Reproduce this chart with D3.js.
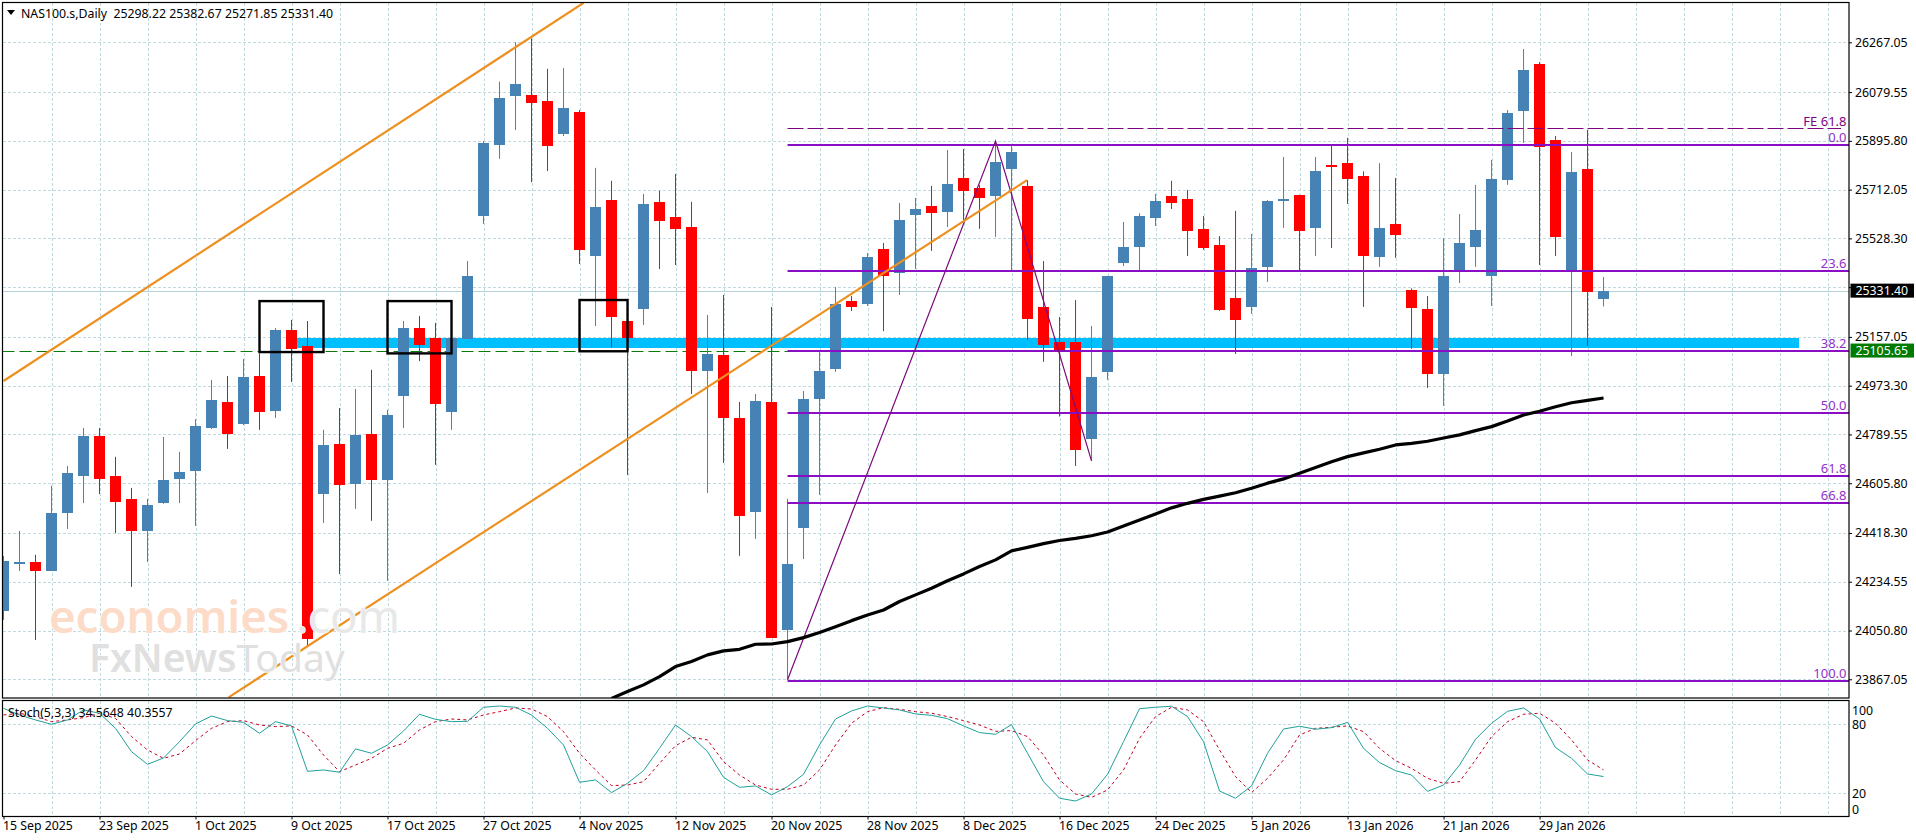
<!DOCTYPE html>
<html>
<head>
<meta charset="utf-8">
<script src="https://cdn.jsdelivr.net/npm/d3@7"></script>
<style>
  html, body { margin: 0; padding: 0; background: #fff; }
  svg { display: block; }
  text { font-family: "Noto Sans", sans-serif; }
</style>
</head>
<body>
<div id="chart"></div>
<script>
// NAS100.s daily candles, bar 0 = 15 Sep 2025
const opens = [24126,24306,24309,24275,24494,24633,24784,24633,24547,24426,24531,24622,24652,24814,24912,24829,25010,24878,25183,25123,
  24565,24754,24603,24791,24618,24935,25191,25153,24874,25149,25613,25880,26065,26069,26046,25922,26005,25462,25673,25217,
  25262,25666,25609,25571,25029,25089,24852,24498,24912,24053,24437,24923,25036,25293,25281,25488,25398,25617,25650,25628,
  25756,25718,25688,25790,25726,25270,25138,25138,24773,25025,25436,25496,25605,25688,25677,25564,25504,25304,25270,25421,
  25669,25692,25568,25805,25812,25763,25458,25583,25334,25262,25017,25406,25496,25387,25748,26008,26185,25899,25406,25790,25298.22];
const highs = [24332,24426,24336,24596,24671,24814,24814,24705,24588,24547,24780,24724,24847,24995,25010,25074,25095,25190,25221,25217,
  24807,24889,24961,25033,24882,25217,25236,25210,25153,25443,25895,26119,26267,26282,26167,26170,26012,25794,25745,25221,
  25696,25708,25771,25666,25240,25315,24912,24942,25270,24547,24953,25100,25345,25311,25473,25511,25662,25681,25726,25861,
  25865,25730,25895,25880,25748,25443,25232,25296,25198,25387,25590,25623,25696,25745,25711,25613,25537,25632,25545,25673,
  25835,25693,25835,25880,25907,25781,25812,25756,25340,25311,25530,25620,25730,25824,26012,26242,26193,25914,25854,25937,25382.67];
const lows = [24091,24275,24015,24275,24433,24531,24565,24418,24215,24309,24528,24531,24445,24810,24735,24825,24807,24852,24987,23990,
  24456,24264,24509,24464,24238,24814,25066,24675,24807,25149,25583,25828,25937,25740,25782,25914,25432,25198,25118,24637,
  25202,25413,25428,24942,24569,24682,24332,24396,24023,23865,24320,24562,25025,25255,25274,25179,25315,25413,25481,25571,
  25598,25564,25534,25402,25146,25063,24857,24671,24690,24995,25424,25407,25575,25639,25462,25485,25255,25093,25244,25364,
  25568,25406,25462,25492,25658,25270,25421,25455,25112,24965,24897,25360,25421,25274,25730,25888,25428,25462,25085,25123,25271.85];
const closes = [24313,24308,24275,24494,24644,24784,24622,24535,24426,24524,24618,24648,24822,24920,24791,25006,24874,25183,25112,24019,
  24750,24599,24788,24618,24863,25191,25127,24904,25153,25387,25888,26057,26110,26039,25877,26020,25485,25647,25232,25153,
  25658,25594,25564,25029,25093,24852,24482,24916,24023,24302,24923,25029,25281,25270,25458,25387,25598,25639,25624,25733,
  25707,25681,25816,25854,25225,25127,25108,24731,25006,25387,25496,25613,25669,25662,25556,25492,25259,25221,25417,25669,
  25677,25556,25782,25799,25752,25462,25568,25541,25266,25017,25387,25511,25560,25752,26001,26163,25873,25534,25779,25326,25331.40];

// moving average, first visible at bar 38
const maStart = 38;
const maValues = [23795,23821,23846,23877,23915,23934,23959,23974,23980,23999,24000,24009,24024,24043,24065,24088,24109,24128,24160,24185,
  24210,24238,24264,24292,24317,24351,24364,24378,24390,24398,24408,24422,24445,24467,24490,24513,24530,24545,24557,24570,
  24587,24606,24622,24643,24665,24687,24706,24720,24734,24750,24756,24764,24776,24788,24804,24819,24840,24863,24877,24894,24909,24918,24927];

// stochastic(5,3,3)
const stochMain = [93.9,88.1,83.8,80,83.8,92.5,89.6,76.5,56.2,45.2,50.7,64.9,80.3,87.2,83.2,81.7,72.2,82.3,78.6,39.1,
  40.3,38.3,58.6,54.8,62,74.2,88.7,84.3,82.3,82.6,94.8,95.9,94.8,88.1,76.5,62,29.6,31.6,20.6,28.7,
  39.7,59.1,79.4,69.3,56.2,33.9,25.2,26.4,18.6,25.8,36.5,62,84.6,91.6,95.9,94.2,92.5,89,87.8,84.9,
  78.6,72.8,71.3,79.7,54.8,30.1,15.7,13.3,19.4,36.5,64.9,93.6,94.8,95.7,86.7,64.9,22,15.7,26.4,54.8,
  75.9,78.3,75.7,77.1,81.7,59.1,46.7,39.7,35.9,21.7,27.2,44.6,67,80.9,91.3,94.2,84.6,59.7,50.4,36.8,34.56];
const stochSignal = [88.1,89.6,86.7,82.3,83.8,85.8,89.6,85.2,69.3,57.7,50.4,54.2,65.8,76.5,82.3,83.2,79.4,78,78.6,70.7,
  53.3,38.8,44.6,50.4,59.1,63.5,75.1,82.3,84.6,83.8,88.1,91,94.2,93.3,86.7,73.6,54.8,40.3,26.7,27.2,
  30.1,46.1,61.4,68.7,66.4,47.5,35.9,27.2,23.5,23.5,27.2,40.3,62,80.9,91,94.5,93,91,89.6,86.7,
  83.2,79.4,73.9,74.5,69.3,53.3,31.6,19.4,16.5,22.9,40.3,67.8,86.7,94.8,92.5,82.3,57.7,34.5,20.6,33,
  49,70.7,76.5,77.4,78.6,73.6,59.1,48.4,41.7,33,28.7,30.1,49,69.3,82.3,88.7,89.6,80.9,66.4,49,40.36];

// axis labels
const priceTicks = [26267.05,26079.55,25895.80,25712.05,25528.30,25157.05,24973.30,24789.55,24605.80,24418.30,24234.55,24050.80,23867.05];
const hiddenGridPrice = 25344.55;
const dateTickBars = [0,6,12,18,24,30,36,42,48,54,60,66,72,78,84,90,96];
const dateTickLabels = ["15 Sep 2025","23 Sep 2025","1 Oct 2025","9 Oct 2025","17 Oct 2025","27 Oct 2025","4 Nov 2025","12 Nov 2025","20 Nov 2025",
  "28 Nov 2025","8 Dec 2025","16 Dec 2025","24 Dec 2025","5 Jan 2026","13 Jan 2026","21 Jan 2026","29 Jan 2026"];
const stochLevels = [80, 20];

// drawn objects
const fibLevels = ["0.0","23.6","38.2","50.0","61.8","66.8","100.0"];
const fibPrices = [25880,25404,25103,24871,24633,24532,23862];
const fibStartBar = 49;
const feLevel = 25943;
const bidPrice = 25105.65;
const lastPrice = 25331.40;
const zoneBars = [18, 112.2];
const zonePrices = [25153, 25115];
const channelUpper = [[0, 24991], [36.26, 26416]];
const channelLower = [[14.07, 23799], [63.97, 25748]];
const zigzag = [[49, 23865], [62, 25895], [68, 24690]];
const boxes = [[16, 20, 25292, 25100], [24, 28, 25292, 25095], [36, 39, 25296, 25103]];

//Dimensions
const width = 1916;
const height = 840;
const plot = { left: 2.5, right: 1849, top: 2.5, mainBottom: 698, stochTop: 700.5, stochBottom: 816.5 };

const x = d3.scaleLinear().domain([0, 115.34]).range([3.5, plot.right]);
const y = d3.scaleLinear().domain([26426.55, 23799]).range([0, 697.33]);
const yStoch = d3.scaleLinear().domain([0, 100]).range([816.3, 701.3]);

const svg = d3.select("#chart").append("svg")
  .attr("width", width)
  .attr("height", height);

svg.append("defs").append("clipPath").attr("id", "mainClip").append("rect")
  .attr("x", plot.left).attr("y", plot.top)
  .attr("width", plot.right - plot.left).attr("height", plot.mainBottom - plot.top);

/*#### Grid ####*/
const gridBars = d3.range(3, 115, 3);
const grid = svg.append("g").attr("fill", "none").attr("stroke", "#c2dadf").attr("stroke-dasharray", "3 2")
  .attr("shape-rendering", "crispEdges");
grid.selectAll(".v").data(gridBars).join("line")
  .attr("x1", d => Math.round(x(d)) + 0.5).attr("x2", d => Math.round(x(d)) + 0.5)
  .attr("y1", plot.top).attr("y2", plot.mainBottom);
grid.selectAll(".v2").data(gridBars).join("line")
  .attr("x1", d => Math.round(x(d)) + 0.5).attr("x2", d => Math.round(x(d)) + 0.5)
  .attr("y1", plot.stochTop).attr("y2", plot.stochBottom);
grid.selectAll(".h").data(priceTicks.concat([hiddenGridPrice])).join("line")
  .attr("x1", plot.left).attr("x2", plot.right)
  .attr("y1", d => Math.round(y(d)) + 0.5).attr("y2", d => Math.round(y(d)) + 0.5);
grid.selectAll(".h2").data(stochLevels).join("line")
  .attr("x1", plot.left).attr("x2", plot.right)
  .attr("y1", d => Math.round(yStoch(d)) + 0.5).attr("y2", d => Math.round(yStoch(d)) + 0.5);

/*#### Main panel ####*/
const main = svg.append("g").attr("clip-path", "url(#mainClip)");

main.append("line")
  .attr("x1", plot.left).attr("x2", plot.right)
  .attr("y1", Math.round(y(lastPrice)) + 0.5).attr("y2", Math.round(y(lastPrice)) + 0.5)
  .attr("stroke", "#b4d4d8").attr("stroke-width", 1);

main.append("rect")
  .attr("x", x(zoneBars[0])).attr("width", x(zoneBars[1]) - x(zoneBars[0]))
  .attr("y", y(zonePrices[0])).attr("height", y(zonePrices[1]) - y(zonePrices[0]))
  .attr("fill", "#00bfff").attr("shape-rendering", "crispEdges");

main.append("line")
  .attr("x1", plot.left).attr("x2", plot.right)
  .attr("y1", Math.round(y(bidPrice)) + 0.5).attr("y2", Math.round(y(bidPrice)) + 0.5)
  .attr("stroke", "#0a7a0a").attr("stroke-width", 1).attr("stroke-dasharray", "12 5");

// candles
const bars = d3.range(opens.length);
const candleColor = i => closes[i] >= opens[i] ? "#4682b4" : "#ff0000";
main.selectAll(".wick").data(bars).join("line")
  .attr("x1", i => x(i)).attr("x2", i => x(i))
  .attr("y1", i => y(highs[i])).attr("y2", i => y(lows[i]))
  .attr("stroke", candleColor).attr("stroke-width", 1);
main.selectAll(".body").data(bars).join("rect")
  .attr("x", i => x(i) - 5.5).attr("width", 11)
  .attr("y", i => y(Math.max(opens[i], closes[i])))
  .attr("height", i => Math.max(1.5, Math.abs(y(opens[i]) - y(closes[i]))))
  .attr("fill", candleColor)
  .attr("shape-rendering", "crispEdges");

// fibonacci
main.append("line")
  .attr("x1", x(fibStartBar)).attr("x2", plot.right - 8)
  .attr("y1", Math.round(y(feLevel)) + 0.5).attr("y2", Math.round(y(feLevel)) + 0.5)
  .attr("stroke", "#800080").attr("stroke-width", 1).attr("stroke-dasharray", "16 4");
main.selectAll(".fib").data(fibPrices).join("line")
  .attr("x1", x(fibStartBar)).attr("x2", plot.right)
  .attr("y1", d => Math.round(y(d))).attr("y2", d => Math.round(y(d)))
  .attr("stroke", "#8a0fc4").attr("stroke-width", 2);

const lineGen = d3.line().x(d => x(d[0])).y(d => y(d[1]));
main.append("path").datum(zigzag).attr("d", lineGen)
  .attr("fill", "none").attr("stroke", "#7a0a7a").attr("stroke-width", 1.2);

// channel
[channelUpper, channelLower].forEach(c => {
  main.append("path").datum(c).attr("d", lineGen)
    .attr("fill", "none").attr("stroke", "#ee9020").attr("stroke-width", 2.2);
});

// moving average
main.append("path").datum(maValues)
  .attr("d", d3.line().x((d, i) => x(i + maStart)).y(d => y(d)))
  .attr("fill", "none").attr("stroke", "#000").attr("stroke-width", 3.2).attr("stroke-linejoin", "round");

// boxes
main.selectAll(".box").data(boxes).join("rect")
  .attr("x", d => x(d[0])).attr("width", d => x(d[1]) - x(d[0]))
  .attr("y", d => y(d[2])).attr("height", d => y(d[3]) - y(d[2]))
  .attr("fill", "none").attr("stroke", "#000").attr("stroke-width", 2.4);

// fib labels
const labels = svg.append("g").attr("text-anchor", "end").attr("font-size", 13);
labels.selectAll(".fibLabel").data(fibPrices).join("text")
  .attr("x", plot.right - 2.5).attr("y", d => y(d) - 3)
  .attr("fill", "#9030c8")
  .text((d, i) => fibLevels[i]);
labels.append("text").attr("x", plot.right - 2.5).attr("y", y(feLevel) - 2)
  .attr("fill", "#800080").text("FE 61.8");

/*#### Stochastic panel ####*/
const stochLine = d3.line().x((d, i) => x(i)).y(d => yStoch(d));
svg.append("path").datum(stochSignal).attr("d", stochLine)
  .attr("fill", "none").attr("stroke", "#c00020").attr("stroke-width", 1).attr("stroke-dasharray", "3 3");
svg.append("path").datum(stochMain).attr("d", stochLine)
  .attr("fill", "none").attr("stroke", "#20a09a").attr("stroke-width", 1);

/*#### Frames ####*/
const frame = svg.append("g").attr("fill", "none").attr("stroke", "#000");
frame.append("rect")
  .attr("x", plot.left).attr("y", plot.top)
  .attr("width", plot.right - plot.left).attr("height", plot.mainBottom - plot.top)
  .attr("stroke-width", 1.2);
frame.append("rect")
  .attr("x", plot.left).attr("y", plot.stochTop)
  .attr("width", plot.right - plot.left).attr("height", plot.stochBottom - plot.stochTop)
  .attr("stroke-width", 1.2);

/*#### Axes ####*/
const priceAxis = d3.axisRight(y)
  .tickValues(priceTicks.concat([hiddenGridPrice]))
  .tickSize(3).tickPadding(3)
  .tickFormat(d => d === hiddenGridPrice ? "" : d3.format(".2f")(d));
const priceG = svg.append("g").attr("transform", `translate(${plot.right},0)`).call(priceAxis);
priceG.select(".domain").remove();
priceG.selectAll("text").attr("font-size", 12.3).attr("font-family", '"Noto Sans", sans-serif').attr("fill", "#000");

const dateAxis = d3.axisBottom(x)
  .tickValues(dateTickBars)
  .tickSize(3).tickPadding(2)
  .tickFormat((d, i) => dateTickLabels[i]);
const dateG = svg.append("g").attr("transform", `translate(0,${plot.stochBottom})`).call(dateAxis);
dateG.select(".domain").remove();
dateG.selectAll("text").attr("text-anchor", "start").attr("x", -1)
  .attr("font-size", 12.3).attr("font-family", '"Noto Sans", sans-serif').attr("fill", "#000");

// stochastic scale labels sit inside the panel ends
const stochLabelValues = ["100", "80", "20", "0"];
const stochLabelY = [710, 724.5, 793.5, 809];
svg.selectAll(".stochLabel").data(stochLabelValues).join("text")
  .attr("x", plot.right + 3).attr("y", (d, i) => stochLabelY[i])
  .attr("dominant-baseline", "central").attr("font-size", 12.3).text(d => d);

// price flags
const flags = [[lastPrice, "#000000"], [bidPrice, "#007a00"]];
const flag = svg.selectAll(".flag").data(flags).join("g")
  .attr("transform", d => `translate(1850.5,${y(d[0])})`);
flag.append("rect").attr("y", -7).attr("width", 63.5).attr("height", 14).attr("fill", d => d[1]);
flag.append("text").attr("x", 5).attr("dominant-baseline", "central").attr("font-size", 12.3)
  .attr("fill", "#fff").text(d => d3.format(".2f")(d[0]));

/*#### Header text ####*/
svg.append("path").attr("d", "M7,10 L15,10 L11,15 Z").attr("fill", "#000");
svg.append("text").attr("x", 21).attr("y", 13).attr("dominant-baseline", "central")
  .attr("font-size", 12.3).attr("xml:space", "preserve")
  .text("NAS100.s,Daily  25298.22 25382.67 25271.85 25331.40");
svg.append("text").attr("x", 8).attr("y", 712).attr("dominant-baseline", "central")
  .attr("font-size", 12.3).text("Stoch(5,3,3) 34.5648 40.3557");

/*#### Watermark ####*/
const mark = svg.append("g").attr("font-family", '"Open Sans", sans-serif').attr("paint-order", "stroke");
const brand = mark.append("text").attr("x", 49).attr("y", 633).attr("font-size", 45.5)
  .attr("stroke", "#fff").attr("stroke-width", 1.5);
brand.append("tspan").attr("fill", "#fcdcc8").attr("font-weight", 600).text("economies");
brand.append("tspan").attr("x", 296).attr("fill", "#e8e8e8").text(".com");
const news = mark.append("text").attr("x", 89).attr("y", 672).attr("font-size", 39)
  .attr("stroke", "#fff").attr("stroke-width", 1.5).attr("fill", "#e0e0e0");
news.append("tspan").attr("font-weight", 600).text("FxNews");
news.append("tspan").text("Today");
</script>
</body>
</html>
